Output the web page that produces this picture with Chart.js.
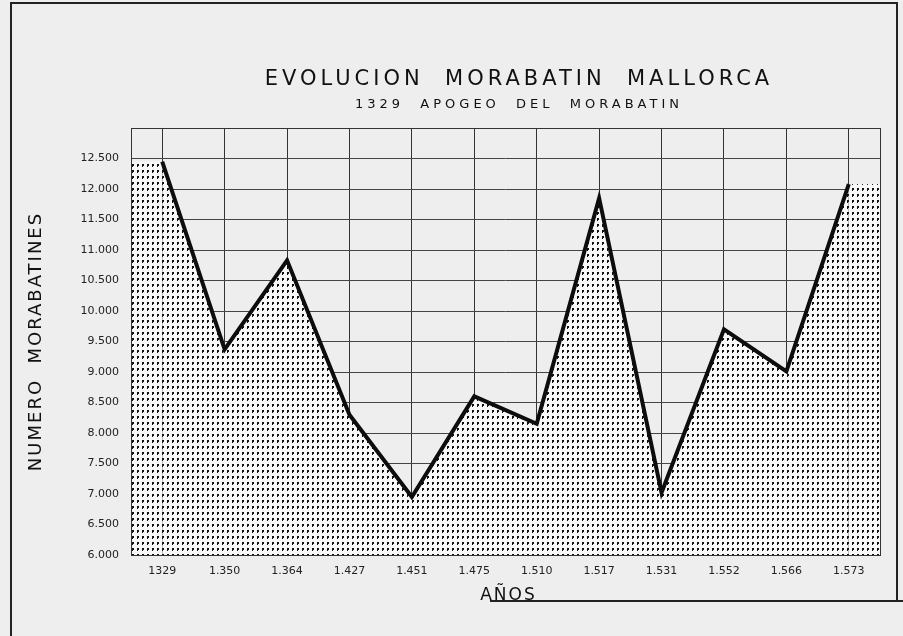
<!DOCTYPE html>
<html>
<head>
<meta charset="utf-8">
<script src="https://cdn.jsdelivr.net/npm/chart.js@4.4.1/dist/chart.umd.min.js"></script>
<style>
  html, body { margin: 0; padding: 0; background: #eeeeee; }
  #wrap { width: 903px; height: 636px; }
</style>
</head>
<body>
<div id="wrap"><canvas id="chart" width="903" height="636"></canvas></div>
<script>
const years = ["1329", "1.350", "1.364", "1.427", "1.451", "1.475", "1.510", "1.517", "1.531", "1.552", "1.566", "1.573"];
const morabatines = [12450, 9370, 10830, 8300, 6950, 8600, 8150, 11850, 7020, 9700, 9010, 12080];
const yMin = 6000;
const yMax = 13000;
const yStep = 500;

const title = "EVOLUCION  MORABATIN  MALLORCA";
const subtitle = "1329  APOGEO  DEL  MORABATIN";
const yTitle = "NUMERO  MORABATINES";
const xTitle = "AÑOS";

// dotted screen under the line
function dotPattern() {
  const c = document.createElement("canvas");
  c.width = 5;
  c.height = 6;
  const g = c.getContext("2d");
  g.fillStyle = "#f8f8f8";
  g.fillRect(0, 0, 5, 6);
  g.fillStyle = "#111";
  g.fillRect(2, 2, 2, 2);
  g.fillRect(2, 4, 1, 1);
  return g.createPattern(c, "repeat");
}
const dots = dotPattern();

const fmt = (v) => {
  const s = String(v);
  return s.length > 3 ? s.slice(0, -3) + "." + s.slice(-3) : s;
};

// fill the half-cells left of the first year and right of the last one
const edgeFill = {
  id: "edgeFill",
  beforeDatasetsDraw(chart) {
    const { ctx, chartArea: a, scales: { x, y } } = chart;
    const n = morabatines.length;
    const y0 = y.getPixelForValue(morabatines[0]);
    const y1 = y.getPixelForValue(morabatines[n - 1]);
    const x0 = x.getPixelForValue(0);
    const x1 = x.getPixelForValue(n - 1);
    ctx.save();
    ctx.fillStyle = dots;
    ctx.fillRect(a.left, y0, x0 - a.left, a.bottom - y0);
    ctx.fillRect(x1, y1, a.right - x1, a.bottom - y1);
    ctx.restore();
  },
};

const frame = {
  id: "frame",
  afterDraw(chart) {
    const { ctx, chartArea: a } = chart;
    ctx.save();
    // plot border
    ctx.strokeStyle = "#333";
    ctx.lineWidth = 1;
    ctx.strokeRect(a.left + 0.5, a.top + 0.5, a.right - a.left, a.bottom - a.top);

    // sheet border
    ctx.strokeStyle = "#222";
    ctx.lineWidth = 2;
    ctx.beginPath();
    ctx.moveTo(11, 636);
    ctx.lineTo(11, 3);
    ctx.lineTo(897, 3);
    ctx.lineTo(897, 601);
    ctx.moveTo(490, 601);
    ctx.lineTo(903, 601);
    ctx.stroke();

    // titles
    ctx.fillStyle = "#111";
    ctx.textAlign = "center";
    ctx.textBaseline = "middle";
    ctx.font = "21px 'DejaVu Sans'";
    ctx.letterSpacing = "4px";
    ctx.fillText(title, 519, 80);
    ctx.font = "13px 'DejaVu Sans'";
    ctx.letterSpacing = "4px";
    ctx.fillText(subtitle, 519, 105);

    ctx.font = "17px 'DejaVu Sans'";
    ctx.letterSpacing = "2px";
    ctx.fillText(xTitle, (a.left + a.right) / 2 + 3, 596);

    ctx.font = "18px 'DejaVu Sans'";
    ctx.translate(36, (a.top + a.bottom) / 2);
    ctx.rotate(-Math.PI / 2);
    ctx.fillText(yTitle, 0, 0);
    ctx.restore();
  },
};

new Chart(document.getElementById("chart"), {
  type: "line",
  data: {
    labels: years,
    datasets: [
      {
        data: morabatines,
        borderColor: "#0d0d0d",
        borderWidth: 4,
        backgroundColor: dots,
        fill: "start",
        tension: 0,
        pointRadius: 0,
        borderJoinStyle: "miter",
      },
    ],
  },
  options: {
    responsive: false,
    animation: false,
    devicePixelRatio: 1,
    layout: { padding: { top: 128, right: 23, left: 0, bottom: 0 } },
    plugins: {
      legend: { display: false },
      tooltip: { enabled: false },
    },
    scales: {
      x: {
        offset: true,
        grid: { color: "#333", lineWidth: 1, drawTicks: false, offset: false },
        border: { display: false },
        ticks: {
          color: "#222",
          padding: 10,
          font: { family: "DejaVu Sans", size: 11 },
          maxRotation: 0,
          autoSkip: false,
        },
        afterFit: (s) => { s.height = 81; },
      },
      y: {
        min: yMin,
        max: yMax,
        grid: { color: "#444", lineWidth: 1, drawTicks: false },
        border: { display: false },
        ticks: {
          stepSize: yStep,
          color: "#222",
          padding: 12,
          font: { family: "DejaVu Sans", size: 11 },
          callback: (v) => (v === yMax ? "" : fmt(v)),
        },
        afterFit: (s) => { s.width = 131; },
      },
    },
  },
  plugins: [edgeFill, frame],
});
</script>
</body>
</html>
